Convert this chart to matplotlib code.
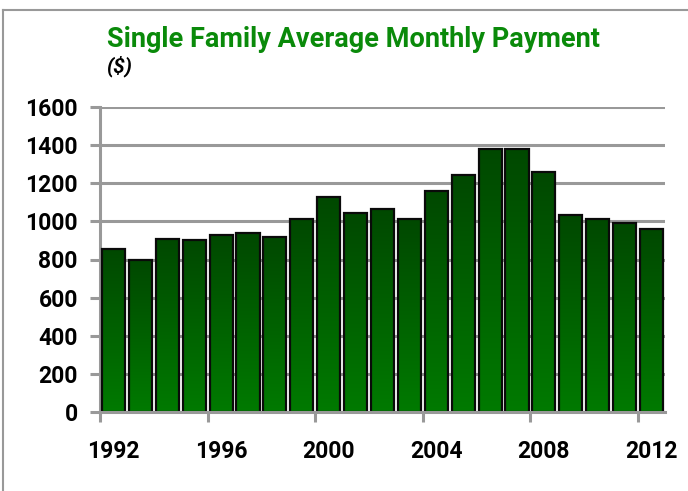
import numpy as np
import matplotlib
matplotlib.use('Agg')
from matplotlib import pyplot as plt
from matplotlib.colors import LinearSegmentedColormap
from matplotlib.lines import Line2D

years = list(range(1992, 2013))
payment = [857, 796, 909, 900, 930, 941, 920, 1014, 1130, 1044, 1067,
           1014, 1161, 1245, 1381, 1381, 1257, 1035, 1014, 993, 962]
label_years = [1992, 1996, 2000, 2004, 2008, 2012]
y_ticks = [0, 200, 400, 600, 800, 1000, 1200, 1400, 1600]

plt.rcParams['font.family'] = ['Roboto', 'DejaVu Sans']

fig = plt.figure(figsize=(6.88, 4.91), dpi=100)
ax = fig.add_axes([100 / 688, 1 - 412 / 491, 565 / 688, 305 / 491])

x = np.arange(len(years))
bars = ax.bar(x, payment, width=0.86, color='none', edgecolor='#0a0a0a',
              linewidth=1.6, zorder=3)

# vertical gradient inside each bar, dark on top
cmap = LinearSegmentedColormap.from_list('grn', ['#004800', '#007a00'])
grad = np.linspace(0, 1, 256).reshape(-1, 1)
for b in bars:
    im = ax.imshow(grad, cmap=cmap, aspect='auto', zorder=2,
                   extent=[b.get_x(), b.get_x() + b.get_width(), 0, b.get_height()])
    im.set_clip_path(b)

ax.set_xlim(-0.5, len(years) - 0.5)
ax.set_ylim(0, 1600)

ax.set_yticks(y_ticks)
ax.set_yticklabels([str(v) for v in y_ticks], fontsize=16.5, fontweight='bold')
ax.yaxis.grid(True, color='#999999', linewidth=2.2, zorder=1)
ax.set_axisbelow(True)
ax.tick_params(axis='y', length=7, width=2.2, color='#999999', pad=9)

ax.set_xticks([years.index(y) for y in label_years])
ax.set_xticklabels([str(y) for y in label_years], fontsize=16.5, fontweight='bold')
ax.set_xticks(np.arange(-0.5, len(years), 4), minor=True)
ax.tick_params(axis='x', which='major', length=0, pad=20)
ax.tick_params(axis='x', which='minor', length=7, width=2.2, color='#999999')

for s in ['top', 'right']:
    ax.spines[s].set_visible(False)
for s in ['left', 'bottom']:
    ax.spines[s].set_color('#999999')
    ax.spines[s].set_linewidth(2.2)
ax.spines['bottom'].set_zorder(4)

fig.text(107 / 688, 1 - 47 / 491, 'Single Family Average Monthly Payment',
         color='#0a8a0a', fontsize=19.5, fontweight='bold', ha='left', va='baseline')
fig.text(106 / 688, 1 - 72 / 491, '($)', color='black', fontsize=15,
         fontweight='bold', style='italic', ha='left', va='baseline')

# outer frame
fig.add_artist(Line2D([3 / 688, 1], [1 - 10 / 491, 1 - 10 / 491],
                      transform=fig.transFigure, color='#999999', linewidth=1.5))
fig.add_artist(Line2D([3 / 688, 3 / 688], [0, 1 - 10 / 491],
                      transform=fig.transFigure, color='#999999', linewidth=1.5))

fig.savefig('out.png', dpi=100)
